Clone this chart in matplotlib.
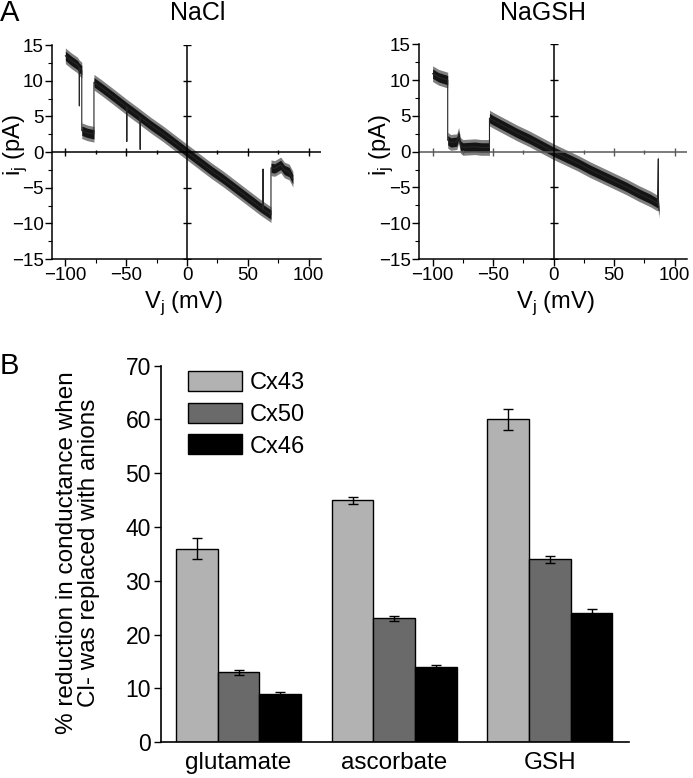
import matplotlib
matplotlib.use("Agg")
import matplotlib.pyplot as plt
from matplotlib.patches import Patch
import numpy as np

plt.rcParams['font.family'] = ['Liberation Sans', 'DejaVu Sans']

# --- panel A: single-channel I-V ramps ---
nacl_v = [-100, -95, -90, -88.5, -88.5, -88.5, -86.5, -86.5, -82, -76.5, -76.5, -70, -60,
          -49.5, -49.5, -49.5, -40, -38.5, -38.5, -38.5, -30, -20, -10, 0, 10, 20, 30,
          40, 50, 60, 62.5, 62.5, 62.5, 68.5, 69, 69, 72, 77, 80, 84, 87]
nacl_i = [13.5, 12.8, 12.2, 11.8, 6.5, 11.8, 11.5, 3.0, 2.7, 2.5, 9.8, 9.0, 7.7,
          6.3, 1.5, 6.3, 5.1, 4.9, 0.4, 4.9, 3.8, 2.6, 1.3, 0.0, -1.3, -2.6, -3.8,
          -5.1, -6.4, -7.7, -8.0, -2.4, -8.0, -8.7, -8.8, -2.2, -2.3, -1.8, -2.5, -2.8, -3.8]

nagsh_v = [-100, -95, -87.5, -87.5, -85, -80, -78.5, -77, -75, -65, -60, -53, -53, -50,
           -40, -30, -20, -10, 0, 10, 20, 30, 40, 50, 60, 70, 80, 86, 86.5, 86.5, 87]
nagsh_i = [10.9, 10.4, 10.0, 1.6, 1.3, 1.4, 2.3, 0.9, 0.6, 0.7, 0.6, 0.6, 4.7, 4.4,
           3.5, 2.6, 1.8, 0.9, 0.0, -0.8, -1.6, -2.5, -3.3, -4.1, -4.9, -5.8, -6.6, -7.2,
           -1.0, -7.5, -8.2]

iv_ticks_x = [-100, -50, 0, 50, 100]
iv_ticks_y = [-15, -10, -5, 0, 5, 10, 15]

# --- panel B: % reduction in conductance ---
anions = ['glutamate', 'ascorbate', 'GSH']
cx_names = ['Cx43', 'Cx50', 'Cx46']
cx43 = [36, 45, 60]
cx43_err = [1.95, 0.65, 1.9]
cx50 = [13, 23, 34]
cx50_err = [0.45, 0.5, 0.6]
cx46 = [9, 14, 24]
cx46_err = [0.25, 0.3, 0.75]
colors = ['#b2b2b2', '#6a6a6a', '#000000']

fig = plt.figure(figsize=(6.93, 7.78), dpi=100)


def iv_panel(rect, v, i, hcol):
    ax = fig.add_axes(rect)
    v = np.array(v)
    i = np.array(i)
    # noisy band around the trace
    ax.fill_between(v, i - 1.1, i + 1.1, color='0.5', lw=0)
    ax.fill_between(v, i - 0.65, i + 0.65, color='0.08', lw=0)
    ax.plot(v, i, color='0.15', lw=0.8)
    ax.axhline(0, color=hcol, lw=1.1)
    ax.axvline(0, color='black', lw=1.1)
    # tick marks on the zero lines
    ax.plot([t for t in iv_ticks_x if t != 0], [0] * 4, ls='none', marker='|',
            color=hcol, ms=6, mew=1)
    ax.plot([-75, -25, 25, 75], [0] * 4, ls='none', marker='|', color=hcol, ms=3, mew=1)
    ax.plot([0] * 6, [t for t in iv_ticks_y if t != 0], ls='none', marker='_',
            color='black', ms=6, mew=1)
    ax.set_xlim(-111, 110)
    ax.set_ylim(-15, 15)
    ax.set_xticks(iv_ticks_x)
    ax.set_xticks([-75, -25, 25, 75], minor=True)
    ax.set_yticks(iv_ticks_y)
    ax.set_yticks(np.arange(-12.5, 15, 5), minor=True)
    for s in ['top', 'right']:
        ax.spines[s].set_visible(False)
    for s in ['left', 'bottom']:
        ax.spines[s].set_linewidth(1.1)
    ax.tick_params(which='major', direction='out', length=5, width=1, labelsize=13.5, pad=1)
    ax.tick_params(which='minor', direction='out', length=3, width=0.8)
    return ax


iv_panel([0.075, 0.667, 0.388, 0.275], nacl_v, nacl_i, 'black')
iv_panel([0.605, 0.667, 0.386, 0.276], nagsh_v, nagsh_i, '0.35')

fig.text(198 / 693, 1 - 13 / 778, 'NaCl', ha='center', va='center', fontsize=18)
fig.text(543 / 693, 1 - 13 / 778, 'NaGSH', ha='center', va='center', fontsize=18)
fig.text(183 / 693, 1 - 303 / 778, 'V$_\\mathregular{j}$ (mV)', ha='center', va='center', fontsize=17)
fig.text(555 / 693, 1 - 303 / 778, 'V$_\\mathregular{j}$ (mV)', ha='center', va='center', fontsize=17)
fig.text(15 / 693, 1 - 145 / 778, 'i$_\\mathregular{j}$ (pA)', ha='center', va='center',
         rotation=90, fontsize=17)
fig.text(381 / 693, 1 - 145 / 778, 'i$_\\mathregular{j}$ (pA)', ha='center', va='center',
         rotation=90, fontsize=17)
fig.text(0.0, 1 - 13 / 778, 'A', ha='left', va='center', fontsize=21)
fig.text(0.0, 1 - 366 / 778, 'B', ha='left', va='center', fontsize=21)

# bar chart
ax = fig.add_axes([0.232, 0.046, 0.676, 0.484])
x = np.arange(len(anions))
w = 0.268
for j, (vals, errs) in enumerate([(cx43, cx43_err), (cx50, cx50_err), (cx46, cx46_err)]):
    ax.bar(x + (j - 1) * w, vals, width=w, color=colors[j], edgecolor='black', lw=1,
           yerr=errs, error_kw=dict(ecolor='black', elinewidth=1, capsize=3.5, capthick=1),
           zorder=2)
ax.set_xlim(-0.5, 2.51)
ax.set_ylim(0, 70)
ax.set_yticks(np.arange(0, 71, 10))
ax.set_xticks(x)
ax.set_xticklabels(anions)
for s in ['top', 'right']:
    ax.spines[s].set_visible(False)
for s in ['left', 'bottom']:
    ax.spines[s].set_linewidth(1.2)
ax.tick_params(axis='y', direction='out', length=5, width=1, labelsize=16.5, pad=2)
ax.tick_params(axis='x', length=0, labelsize=17.5, pad=7)

handles = [Patch(facecolor=c, edgecolor='black', lw=1) for c in colors]
ax.legend(handles, cx_names, loc='upper left', bbox_to_anchor=(0.058, 0.985), frameon=False,
          fontsize=17, handlelength=2.3, handleheight=0.92, labelspacing=0.36,
          handletextpad=0.3, borderpad=0, borderaxespad=0)

fig.text(78 / 693, 1 - 553 / 778,
         '% reduction in conductance when\nCl- was replaced with anions',
         ha='center', va='center', rotation=90, fontsize=17.5, multialignment='center',
         linespacing=1.05)

fig.savefig('out.png', dpi=100)
